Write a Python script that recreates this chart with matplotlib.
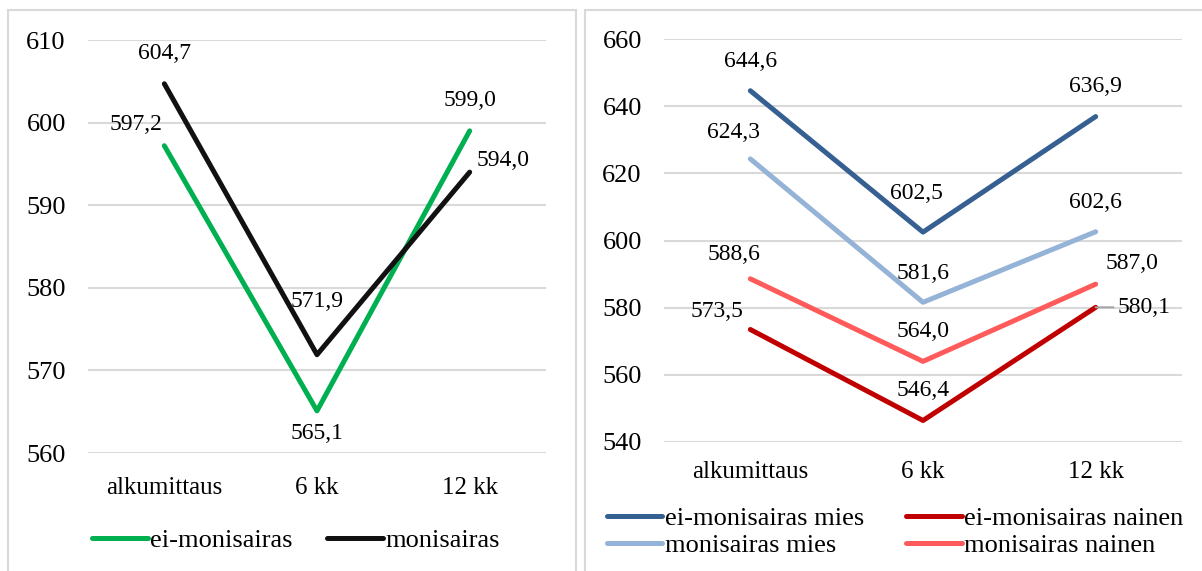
import matplotlib.pyplot as plt
from matplotlib.patches import Rectangle

plt.rcParams['font.family'] = ['Liberation Serif', 'DejaVu Serif']

# data
categories = ['alkumittaus', '6 kk', '12 kk']

left_names = ['ei-monisairas', 'monisairas']
ei_monisairas = [597.2, 565.1, 599.0]
monisairas = [604.7, 571.9, 594.0]

right_names = ['ei-monisairas mies', 'ei-monisairas nainen', 'monisairas mies', 'monisairas nainen']
ei_mies = [644.6, 602.5, 636.9]
ei_nainen = [573.5, 546.4, 580.1]
moni_mies = [624.3, 581.6, 602.6]
moni_nainen = [588.6, 564.0, 587.0]

# label offsets in pixels (dx, dy, ha)
left_offsets = [
    [(-28, 21, 'center'), (0, -23, 'center'), (0, 30, 'center')],
    [(0, 30, 'center'), (0, 53, 'center'), (7, 12, 'left')],
]
right_offsets = [
    [(0, 29, 'center'), (-7, 39, 'center'), (0, 30, 'center')],
    [(-7, 18, 'right'), (0, 30, 'center'), (22, 0, 'left')],
    [(-17, 26, 'center'), (0, 29, 'center'), (0, 29, 'center')],
    [(-16, 24, 'center'), (0, 30, 'center'), (36, 21, 'center')],
]

fs = 17
grid_col = '#d9d9d9'

fig = plt.figure(figsize=(12.02, 5.71), dpi=100)

# panel borders
fig.patches.append(Rectangle((8 / 1202, -0.01), 568 / 1202, 1 - 10 / 571 + 0.01,
                             transform=fig.transFigure, fill=False, ec=grid_col, lw=1.5))
fig.patches.append(Rectangle((585 / 1202, -0.01), 620 / 1202, 1 - 10 / 571 + 0.01,
                             transform=fig.transFigure, fill=False, ec=grid_col, lw=1.5))


def style_axes(ax, ylim, yticks, xpad):
    ax.set_ylim(*ylim)
    ax.set_yticks(yticks)
    ax.set_xlim(-0.5, 2.5)
    ax.set_xticks(range(3))
    ax.set_xticklabels(categories)
    ax.tick_params(length=0)
    ax.tick_params(axis='y', pad=16, labelsize=19)
    ax.tick_params(axis='x', pad=xpad, labelsize=18)
    for s in ax.spines.values():
        s.set_visible(False)
    ax.grid(axis='y', color=grid_col, lw=1.5)
    ax.set_axisbelow(True)


def add_labels(ax, vals, offs, leader=None):
    for i, (v, (dx, dy, ha)) in enumerate(zip(vals, offs)):
        txt = f'{v:.1f}'.replace('.', ',')
        kw = {}
        if leader is not None and i == leader:
            kw['arrowprops'] = dict(arrowstyle='-', color='#a6a6a6', lw=1.5, shrinkA=1, shrinkB=0)
        ax.annotate(txt, (i, v), xytext=(dx, dy), textcoords='offset pixels',
                    ha=ha, va='center', fontsize=fs, **kw)


# left chart
ax1 = fig.add_axes([88 / 1202, 1 - 453 / 571, 458 / 1202, 413 / 571])
style_axes(ax1, (560, 610), range(560, 611, 10), 17)
l1, = ax1.plot(range(3), ei_monisairas, color='#00b050', lw=3.6, solid_capstyle='round')
l2, = ax1.plot(range(3), monisairas, color='#111111', lw=3.6, solid_capstyle='round')
add_labels(ax1, ei_monisairas, left_offsets[0])
add_labels(ax1, monisairas, left_offsets[1])
fig.legend([l1, l2], left_names, loc='center', bbox_to_anchor=(296 / 1202, 1 - 540 / 571),
           ncol=2, frameon=False, fontsize=19, handlelength=2.1, handletextpad=0.1,
           columnspacing=1.3)

# right chart
ax2 = fig.add_axes([664 / 1202, 1 - 442 / 571, 518 / 1202, 403 / 571])
style_axes(ax2, (540, 660), range(540, 661, 20), 14)
r1, = ax2.plot(range(3), ei_mies, color='#376092', lw=3.6, solid_capstyle='round')
r2, = ax2.plot(range(3), ei_nainen, color='#c00000', lw=3.6, solid_capstyle='round')
r3, = ax2.plot(range(3), moni_mies, color='#95b3d7', lw=3.6, solid_capstyle='round')
r4, = ax2.plot(range(3), moni_nainen, color='#ff5b5b', lw=3.6, solid_capstyle='round')
add_labels(ax2, ei_mies, right_offsets[0])
add_labels(ax2, ei_nainen, right_offsets[1], leader=2)
add_labels(ax2, moni_mies, right_offsets[2])
add_labels(ax2, moni_nainen, right_offsets[3])
# legend fills column-wise, so order handles to read row by row
fig.legend([r1, r3, r2, r4], [right_names[0], right_names[2], right_names[1], right_names[3]],
           loc='center', bbox_to_anchor=(895 / 1202, 1 - 532 / 571),
           ncol=2, frameon=False, fontsize=19, handlelength=2.1, handletextpad=0.1,
           columnspacing=1.6, labelspacing=0.15)

fig.savefig('out.png', dpi=100)
